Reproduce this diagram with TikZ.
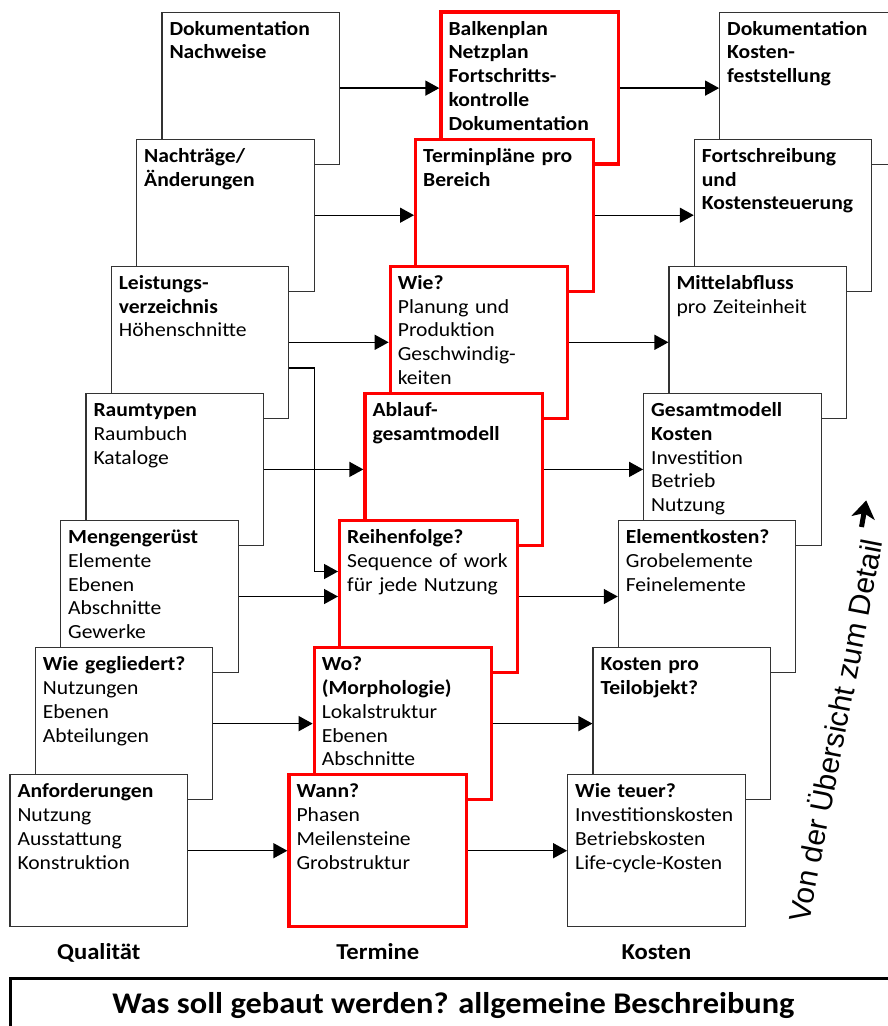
\documentclass[tikz,border=0pt]{standalone}
\usepackage{fontspec}
\setmainfont{Carlito}[FakeStretch=1.08]
\newfontfamily\arialfont{Liberation Sans}
\usetikzlibrary{arrows.meta}

\tikzset{
  stagebase/.style={rectangle, fill=white, minimum width=177.5pt, minimum height=152pt, inner sep=0pt},
  plainbox/.style={stagebase, draw=black!80, line width=1.2pt},
  redbox/.style={stagebase, draw=red, line width=3.3pt},
  boxtext/.style={anchor=base west, inner sep=0pt, text width=200pt, align=left,
    font=\fontsize{20pt}{23.8pt}\selectfont},
  flow/.style={draw=black, line width=1.4pt, -{Triangle[length=14pt,width=15pt]}},
  collabel/.style={anchor=base, inner sep=0pt, font=\fontsize{22.8pt}{28pt}\selectfont\bfseries},
}

% one stage box: name, style, centre x, centre y, contents
\newcommand\stagebox[5]{%
  \node[#2] (#1) at (#3,#4) {};
  \node[boxtext] (#1t) at ([shift={(-81.45pt,53pt)}]#1.center) {#5};
}

\begin{document}
\begin{tikzpicture}[x=1pt, y={(0pt,-1pt)}]
\useasboundingbox (0,0) rectangle (888,1026);
\fill[white] (0,0) rectangle (888,1026);
\clip (0,0) rectangle (888,1026);

% ---- Qualität ----
\stagebox{L6}{plainbox}{250.75}{88.1}{\textbf{Dokumentation}\\\textbf{Nachweise}}
\stagebox{L5}{plainbox}{225.42}{215.2}{\textbf{Nachträge/}\\\textbf{Änderungen}}
\stagebox{L4}{plainbox}{200.08}{342.3}{\textbf{Leistungs-}\\\textbf{verzeichnis}\\Höhenschnitte}
\stagebox{L3}{plainbox}{174.75}{469.4}{\textbf{Raumtypen}\\Raumbuch\\Kataloge}
\stagebox{L2}{plainbox}{149.42}{596.5}{\textbf{Mengengerüst}\\Elemente\\Ebenen\\Abschnitte\\Gewerke}
\stagebox{L1}{plainbox}{124.08}{723.6}{\textbf{Wie gegliedert?}\\Nutzungen\\Ebenen\\Abteilungen}
\stagebox{L0}{plainbox}{98.75}{850.7}{\textbf{Anforderungen}\\Nutzung\\Ausstattung\\Konstruktion}

% ---- Termine ----
\stagebox{M6}{redbox}{529.75}{88.1}{\textbf{Balkenplan}\\\textbf{Netzplan}\\\textbf{Fortschritts-}\\\textbf{kontrolle}\\\textbf{Dokumentation}}
\stagebox{M5}{redbox}{504.42}{215.2}{\textbf{Terminpläne pro}\\\textbf{Bereich}}
\stagebox{M4}{redbox}{479.08}{342.3}{\textbf{Wie?}\\Planung und\\Produktion\\Geschwindig-\\keiten}
\stagebox{M3}{redbox}{453.75}{469.4}{\textbf{Ablauf-}\\\textbf{gesamtmodell}}
\stagebox{M2}{redbox}{428.42}{596.5}{\textbf{Reihenfolge?}\\Sequence of work\\für jede Nutzung}
\stagebox{M1}{redbox}{403.08}{723.6}{\textbf{Wo?}\\\textbf{(Morphologie)}\\Lokalstruktur\\Ebenen\\Abschnitte}
\stagebox{M0}{redbox}{377.75}{850.7}{\textbf{Wann?}\\Phasen\\Meilensteine\\Grobstruktur}

% ---- Kosten ----
\stagebox{K6}{plainbox}{808.45}{88.1}{\textbf{Dokumentation}\\\textbf{Kosten-}\\\textbf{feststellung}}
\stagebox{K5}{plainbox}{783.12}{215.2}{\textbf{Fortschreibung}\\\textbf{und}\\\textbf{Kostensteuerung}}
\stagebox{K4}{plainbox}{757.78}{342.3}{\textbf{Mittelabfluss}\\pro Zeiteinheit}
\stagebox{K3}{plainbox}{732.45}{469.4}{\textbf{Gesamtmodell}\\\textbf{Kosten}\\Investition\\Betrieb\\Nutzung}
\stagebox{K2}{plainbox}{707.12}{596.5}{\textbf{Elementkosten?}\\Grobelemente\\Feinelemente}
\stagebox{K1}{plainbox}{681.78}{723.6}{\textbf{Kosten pro}\\\textbf{Teilobjekt?}}
\stagebox{K0}{plainbox}{656.45}{850.7}{\textbf{Wie teuer?}\\Investitionskosten\\Betriebskosten\\Life-cycle-Kosten}

% ---- flows between the columns ----
\foreach \i in {0,...,6} {
  \draw[flow] (L\i) -- (M\i);
  \draw[flow] (M\i) -- (K\i);
}
\draw[flow] ([yshift=-25.7pt]L4.east) -- ++(25pt,0pt) |- ([yshift=25pt]M2.west);

% ---- column captions ----
\node[collabel] (capq) at (98.75,959) {Qualität};
\node[collabel] (capt) at (377.75,959) {Termine};
\node[collabel] (capk) at (656.45,959) {Kosten};

% ---- base description ----
\node[draw=black, line width=3.5pt, anchor=north west, minimum width=886pt,
      minimum height=80pt, inner sep=0pt, outer sep=0pt] (baseframe) at (10.5,978.7) {};
\node[anchor=base, inner sep=0pt, font=\fontsize{30pt}{36pt}\selectfont\bfseries]
  (title) at (453.5,1013) {Was soll gebaut werden? allgemeine Beschreibung};

% ---- direction note with its bold arrow ----
\node[rotate=79, inner sep=0pt, font=\arialfont\fontsize{30pt}{36pt}\selectfont]
  (dir) at (834,730) {Von der Übersicht zum Detail};
\coordinate (upfoot) at (861.5,527);
\begin{scope}[shift={(upfoot)}, rotate=80]
  \draw[line width=5pt] (0pt,0pt) -- (15pt,0pt);
  \fill (27pt,0pt) -- (9pt,12pt) -- (14pt,0pt) -- (9pt,-12pt) -- cycle;
\end{scope}
\end{tikzpicture}
\end{document}
